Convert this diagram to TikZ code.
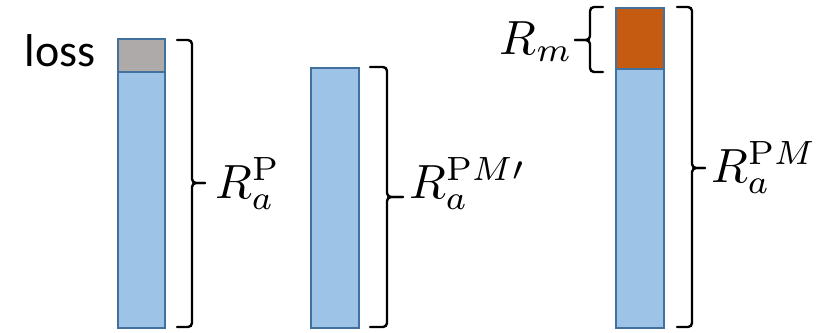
\documentclass[tikz,border=0pt]{standalone}
\usepackage{fontspec}
\usepackage{graphicx}
\newfontfamily\calib{Carlito}
\definecolor{barblue}{HTML}{9DC3E6}
\definecolor{barline}{HTML}{41719C}
\definecolor{lossgray}{HTML}{AEAAAA}
\definecolor{morange}{HTML}{C55A11}
\newcommand{\bigmath}[1]{\scalebox{4.8}{$#1$}}
\tikzset{
  bar/.style={draw=barline, line width=2.3pt, anchor=north west, inner sep=0pt, minimum width=47pt},
  brace/.style={line width=2.4pt, rounded corners=4pt, line cap=round},
  lab/.style={inner sep=0pt, anchor=base west},
}
\begin{document}
\begin{tikzpicture}[x=1pt,y=-1pt]
\useasboundingbox (0,0) rectangle (818,332);
% bar 1
\node[bar, fill=barblue, minimum height=256pt] (b1) at (117,71) {};
\node[bar, fill=lossgray, minimum height=33pt] (g1) at (117,38) {};
% bar 2
\node[bar, fill=barblue, minimum height=260pt, minimum width=48pt] (b2) at (310,67) {};
% bar 3
\node[bar, fill=barblue, minimum height=259pt, minimum width=48pt] (b3) at (615,68) {};
\node[bar, fill=morange, minimum height=61pt, minimum width=48pt] (o3) at (615,7) {};
% loss
\node[inner sep=0pt, anchor=base, font=\calib\fontsize{46}{54}\selectfont] (loss) at (60,66) {loss};
% braces
\coordinate (t1) at (177,40); \coordinate (m1) at (205,183); \coordinate (u1) at (177,327);
\draw[brace] (t1) -- (192,40) -- (192,183) -- (m1);
\draw[brace] (u1) -- (192,327) -- (192,183) -- (m1);
\coordinate (t2) at (370,67); \coordinate (m2) at (403,197); \coordinate (u2) at (370,327);
\draw[brace] (t2) -- (387,67) -- (387,197) -- (m2);
\draw[brace] (u2) -- (387,327) -- (387,197) -- (m2);
\coordinate (t3) at (677,7); \coordinate (m3) at (705,168); \coordinate (u3) at (677,327);
\draw[brace] (t3) -- (692,7) -- (692,168) -- (m3);
\draw[brace] (u3) -- (692,327) -- (692,168) -- (m3);
\coordinate (t4) at (603,7); \coordinate (m4) at (575,40); \coordinate (u4) at (603,72);
\draw[brace] (t4) -- (590,7) -- (590,40) -- (m4);
\draw[brace] (u4) -- (590,72) -- (590,40) -- (m4);
% labels
\node[lab] (l1) at (215,198) {\bigmath{R_a^{\mathrm{P}}}};
\node[lab] (l2) at (409,198) {\bigmath{R_a^{\mathrm{P}M\prime}}};
\node[lab] (l3) at (711,182) {\bigmath{R_a^{\mathrm{P}M}}};
\node[lab, anchor=base east] (l4) at (573,54) {\bigmath{R_m}};
\end{tikzpicture}
\end{document}
